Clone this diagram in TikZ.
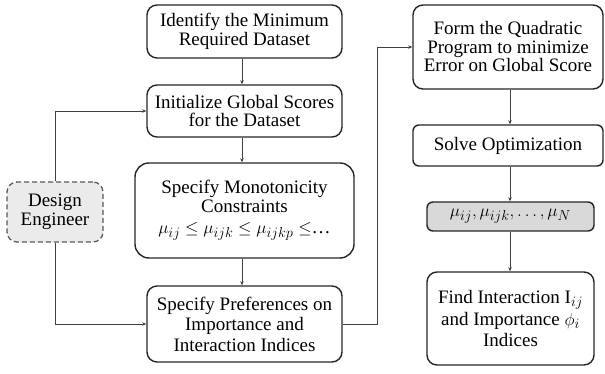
\documentclass[tikz,border=0pt]{standalone}
\usepackage{fontspec}
\setmainfont{Liberation Serif}
\usetikzlibrary{arrows.meta}
\begin{document}
\begin{tikzpicture}[x=1pt,y=-1pt,
  box/.style={draw=black!85,line width=1.4pt,rounded corners=10pt,align=center,
    font=\fontsize{19}{18.5}\selectfont,inner sep=1pt},
  conn/.style={draw=black!75,line width=0.7pt,-{Stealth[length=4pt,width=3.5pt]}},
  line/.style={draw=black!75,line width=0.7pt}]
\useasboundingbox (0,0) rectangle (605,374);
\node[box,minimum width=195pt,minimum height=53pt] (b1) at (244.5,31.5) {Identify the Minimum\\Required Dataset};
\node[box,minimum width=195pt,minimum height=52pt] (b2) at (244.5,111) {Initialize Global Scores\\for the Dataset};
\node[box,minimum width=219pt,minimum height=95pt,rounded corners=14pt] (b3) at (244.5,210.5) {Specify Monotonicity\\Constraints\\[3pt]$\mu_{ij}\leq\mu_{ijk}\leq\mu_{ijkp}\leq$\ldots};
\node[box,minimum width=195pt,minimum height=76pt,font=\fontsize{19}{20.5}\selectfont] (b4) at (244.5,324) {Specify Preferences on\\Importance and\\Interaction Indices};
\node[box,minimum width=190pt,minimum height=84pt] (b5) at (508,47) {Form the Quadratic\\Program to minimize\\Error on Global Score};
\node[box,minimum width=190pt,minimum height=41pt,rounded corners=6pt] (b6) at (508,145.5) {Solve Optimization};
\node[box,minimum width=167pt,minimum height=29pt,rounded corners=6pt,fill=black!15] (b7) at (510.5,216.5) {$\mu_{ij},\mu_{ijk},\ldots,\mu_N$};
\node[box,minimum width=167pt,minimum height=93pt,font=\fontsize{19}{21.5}\selectfont] (b8) at (510.5,318.5) {Find Interaction I$_{ij}$\\and Importance $\phi_i$\\Indices};
\node[box,draw=black!65,dash pattern=on 5pt off 3pt,line width=1.3pt,fill=black!8,minimum width=96pt,minimum height=60pt] (de) at (55,212) {Design\\Engineer};
\coordinate (cx) at (377,0);
\draw[conn] (b1.south -| 242,0) -- (b2.north -| 242,0);
\draw[conn] (b2.south -| 242,0) -- (b3.north -| 242,0);
\draw[conn] (b3.south -| 242,0) -- (b4.north -| 242,0);
\draw[conn] (b5.south -| 510,0) -- (b6.north -| 510,0);
\draw[conn] (b6.south -| 510,0) -- (b7.north -| 510,0);
\draw[conn] (b7.south -| 510,0) -- (b8.north -| 510,0);
\draw[conn] (b4.east) -- (b4.east -| cx) |- (b5.west);
\draw[conn] (de.north) |- (b2.west);
\draw[conn] (de.south) |- (b4.west);
\end{tikzpicture}
\end{document}
